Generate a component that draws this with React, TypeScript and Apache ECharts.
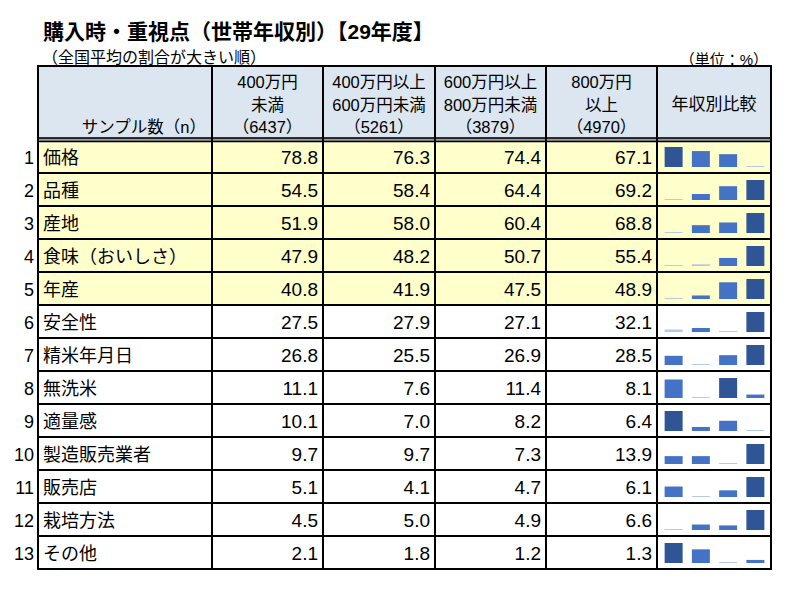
import React, { useEffect, useRef } from 'react';
import * as echarts from 'echarts';

const titleText = '購入時・重視点（世帯年収別）【29年度】';
const subtitleText = '（全国平均の割合が大きい順）';
const unitText = '（単位：%）';
const sampleLabel = 'サンプル数（n）';
const compareLabel = '年収別比較';

const bracketLine1 = ['400万円', '400万円以上', '600万円以上', '800万円'];
const bracketLine2 = ['未満', '600万円未満', '800万円未満', '以上'];
const sampleSizes = [6437, 5261, 3879, 4970];

const items = [
  '価格', '品種', '産地', '食味（おいしさ）', '年産', '安全性', '精米年月日',
  '無洗米', '適量感', '製造販売業者', '販売店', '栽培方法', 'その他',
];
const under400 = [78.8, 54.5, 51.9, 47.9, 40.8, 27.5, 26.8, 11.1, 10.1, 9.7, 5.1, 4.5, 2.1];
const from400to600 = [76.3, 58.4, 58.0, 48.2, 41.9, 27.9, 25.5, 7.6, 7.0, 9.7, 4.1, 5.0, 1.8];
const from600to800 = [74.4, 64.4, 60.4, 50.7, 47.5, 27.1, 26.9, 11.4, 8.2, 7.3, 4.7, 4.9, 1.2];
const over800 = [67.1, 69.2, 68.8, 55.4, 48.9, 32.1, 28.5, 8.1, 6.4, 13.9, 6.1, 6.6, 1.3];
const highlightedRows = 5;

const FONT = "'Liberation Sans','Noto Sans CJK JP',sans-serif";
const colX = [38, 212, 323, 435, 546, 657, 771];
const TABLE_TOP = 66;
const HEAD_BOTTOM = 140;
const ROW_H = 33;

function txt(x: number, y: number, text: string, size: number, align: string, bold = false, z = 10) {
  return {
    type: 'text',
    x,
    y,
    z,
    style: {
      text,
      font: `${bold ? 'bold ' : ''}${size}px ${FONT}`,
      fill: '#000',
      align,
      verticalAlign: 'middle',
      textAlign: align,
      textVerticalAlign: 'middle',
    },
  };
}

function line(x1: number, y1: number, x2: number, y2: number, w: number, color = '#000') {
  return {
    type: 'line',
    z: 20,
    shape: { x1, y1, x2, y2 },
    style: { stroke: color, lineWidth: w },
  };
}

export default function App() {
  const ref = useRef<HTMLDivElement>(null);
  useEffect(() => {
    document.body.style.margin = '0';
    const chart = echarts.init(ref.current!, null, { renderer: 'svg' });
    const columns = [under400, from400to600, from600to800, over800];
    const n = items.length;
    const bottom = HEAD_BOTTOM + ROW_H * n;
    const left = colX[0];
    const right = colX[colX.length - 1];

    const graphic: any[] = [];
    // backgrounds
    graphic.push({ type: 'rect', z: 0, shape: { x: left, y: TABLE_TOP, width: right - left, height: HEAD_BOTTOM - TABLE_TOP }, style: { fill: '#DCE6F1' } });
    graphic.push({ type: 'rect', z: 0, shape: { x: left, y: HEAD_BOTTOM, width: right - left, height: ROW_H * highlightedRows }, style: { fill: '#FFFFCC' } });

    // titles
    graphic.push(txt(43, 31, titleText, 21, 'left', true));
    graphic.push(txt(42, 57, subtitleText, 16, 'left'));
    graphic.push(txt(768, 59, unitText, 15, 'right'));

    // header
    graphic.push(txt(206, 127, sampleLabel, 16.5, 'right'));
    graphic.push(txt((colX[5] + colX[6]) / 2, 104, compareLabel, 17, 'center'));
    for (let c = 0; c < 4; c++) {
      const cx = (colX[c + 1] + colX[c + 2]) / 2;
      graphic.push(txt(cx, 82, bracketLine1[c], 16.5, 'center'));
      graphic.push(txt(cx, 105, bracketLine2[c], 16.5, 'center'));
      graphic.push(txt(cx, 127, `（${sampleSizes[c]}）`, 16.5, 'center'));
    }

    // rows
    for (let i = 0; i < n; i++) {
      const cy = HEAD_BOTTOM + ROW_H * i + ROW_H / 2 + 1;
      graphic.push(txt(34, cy, String(i + 1), 18, 'right'));
      graphic.push(txt(43, cy, items[i], 18, 'left'));
      for (let c = 0; c < 4; c++) {
        graphic.push(txt(colX[c + 2] - 5, cy, columns[c][i].toFixed(1), 19, 'right'));
      }
    }

    // grid lines
    for (let k = 1; k < colX.length - 1; k++) {
      graphic.push(line(colX[k], TABLE_TOP, colX[k], bottom, 2));
    }
    for (let i = 1; i < n; i++) {
      const y = HEAD_BOTTOM + ROW_H * i;
      graphic.push(line(left, y, right, y, 2));
    }
    graphic.push({ type: 'rect', z: 19, shape: { x: left, y: HEAD_BOTTOM - 2.5, width: right - left, height: 4 }, style: { fill: '#9a9a9a' } });
    graphic.push(line(left, HEAD_BOTTOM - 2, right, HEAD_BOTTOM - 2, 1.5));
    graphic.push(line(left, HEAD_BOTTOM + 1.5, right, HEAD_BOTTOM + 1.5, 1.5));
    graphic.push({ type: 'rect', z: 21, shape: { x: left, y: TABLE_TOP, width: right - left, height: bottom - TABLE_TOP }, style: { fill: 'none', stroke: '#000', lineWidth: 2 } });

    // sparkline bars
    const grids: any[] = [];
    const xAxes: any[] = [];
    const yAxes: any[] = [];
    const series: any[] = [];
    for (let i = 0; i < n; i++) {
      const vals = columns.map((col) => col[i]);
      const mn = Math.min(...vals);
      const mx = Math.max(...vals);
      const range = mx - mn;
      const t = HEAD_BOTTOM + ROW_H * i;
      grids.push({ left: 660, top: t + 7, width: 109, height: 20 });
      xAxes.push({ type: 'category', gridIndex: i, data: bracketLine1, show: false });
      yAxes.push({ type: 'value', gridIndex: i, min: mn - range * 0.05, max: mx, show: false });
      series.push({
        type: 'bar',
        xAxisIndex: i,
        yAxisIndex: i,
        barWidth: 18,
        z: 5,
        clip: true,
        silent: true,
        data: vals.map((v) => {
          const norm = (v - mn) / range;
          const color = v === mx ? '#2F5597' : norm < 0.1 ? '#B4C7E7' : '#4472C4';
          return { value: v, itemStyle: { color } };
        }),
      });
    }

    chart.setOption({
      animation: false,
      backgroundColor: '#fff',
      grid: grids,
      xAxis: xAxes,
      yAxis: yAxes,
      series,
      graphic,
    });
    return () => chart.dispose();
  }, []);
  return <div ref={ref} style={{ width: 800, height: 602 }} />;
}
